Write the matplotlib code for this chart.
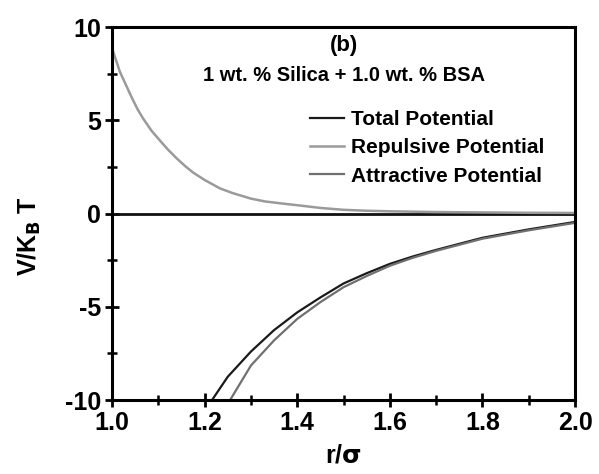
import numpy as np
import matplotlib
matplotlib.use("Agg")
import matplotlib.pyplot as plt

# valores
r_rep = [1.0, 1.017, 1.03, 1.043, 1.055, 1.067, 1.085, 1.104, 1.12, 1.14, 1.16, 1.175, 1.2, 1.233,
         1.26, 1.3, 1.33, 1.363, 1.406, 1.45, 1.5, 1.55, 1.6, 1.7, 1.8, 1.9, 2.0]
v_rep = [8.87, 7.6, 6.9, 6.2, 5.6, 5.1, 4.45, 3.9, 3.45, 2.95, 2.5, 2.2, 1.8, 1.35,
         1.1, 0.8, 0.65, 0.55, 0.43, 0.3, 0.2, 0.15, 0.12, 0.08, 0.06, 0.04, 0.03]

r_tot = [1.216, 1.25, 1.3, 1.35, 1.4, 1.45, 1.5, 1.55, 1.6, 1.65, 1.7, 1.8, 1.9, 2.0]
v_tot = [-10.0, -8.75, -7.4, -6.25, -5.3, -4.5, -3.75, -3.2, -2.7, -2.3, -1.95, -1.3, -0.85, -0.45]

r_att = [1.255, 1.3, 1.35, 1.4, 1.45, 1.5, 1.55, 1.6, 1.65, 1.7, 1.8, 1.9, 2.0]
v_att = [-10.0, -8.15, -6.8, -5.65, -4.75, -3.95, -3.35, -2.8, -2.37, -2.0, -1.35, -0.9, -0.5]

plt.rcParams['font.family'] = ['Liberation Sans', 'DejaVu Sans']
plt.rcParams['font.weight'] = 'bold'
plt.rcParams['axes.unicode_minus'] = False

fig = plt.figure(figsize=(5.99, 4.74), dpi=100)
ax = fig.add_axes([0.187, 0.156, 0.773, 0.787])

ax.axhline(0, color='#111111', lw=2)
l1, = ax.plot(r_tot, v_tot, color='#1a1a1a', lw=1.6, label='Total Potential')
l2, = ax.plot(r_rep, v_rep, color='#9a9a9a', lw=1.8, label='Repulsive Potential')
l3, = ax.plot(r_att, v_att, color='#707070', lw=1.6, label='Attractive Potential')

ax.set_xlim(1.0, 2.0)
ax.set_ylim(-10, 10)
ax.set_xticks([1.0, 1.2, 1.4, 1.6, 1.8, 2.0])
ax.set_xticks(np.arange(1.1, 2.0, 0.2), minor=True)
ax.set_yticks([-10, -5, 0, 5, 10])
ax.set_yticks([-7.5, -2.5, 2.5, 7.5], minor=True)
ax.set_xticklabels(['1.0', '1.2', '1.4', '1.6', '1.8', '2.0'])
ax.tick_params(which='major', direction='inout', length=10, width=2, labelsize=18, pad=3)
ax.tick_params(which='minor', direction='inout', length=7, width=1.8)
for s in ax.spines.values():
    s.set_linewidth(2.2)
for lab in ax.get_xticklabels() + ax.get_yticklabels():
    lab.set_fontweight('bold')

ax.set_xlabel(r'r/$\mathbf{\sigma}$', fontsize=18, fontweight='bold', labelpad=6)
ax.set_ylabel(r'V/K$_\mathbf{B}$ T', fontsize=18, fontweight='bold')
ax.yaxis.set_label_coords(-0.15, 0.44)

ax.text(0.5, 0.95, '(b)', transform=ax.transAxes, ha='center', va='center', fontsize=16, fontweight='bold')
ax.text(0.5, 0.87, '1 wt. % Silica + 1.0 wt. % BSA', transform=ax.transAxes, ha='center', va='center',
        fontsize=14.5, fontweight='bold')

ax.legend(handles=[l1, l2, l3], loc='upper left', bbox_to_anchor=(0.41, 0.80), frameon=False,
          fontsize=15, handlelength=1.6, handletextpad=0.35, labelspacing=0.45, borderaxespad=0)

fig.savefig('out.png', dpi=100)
